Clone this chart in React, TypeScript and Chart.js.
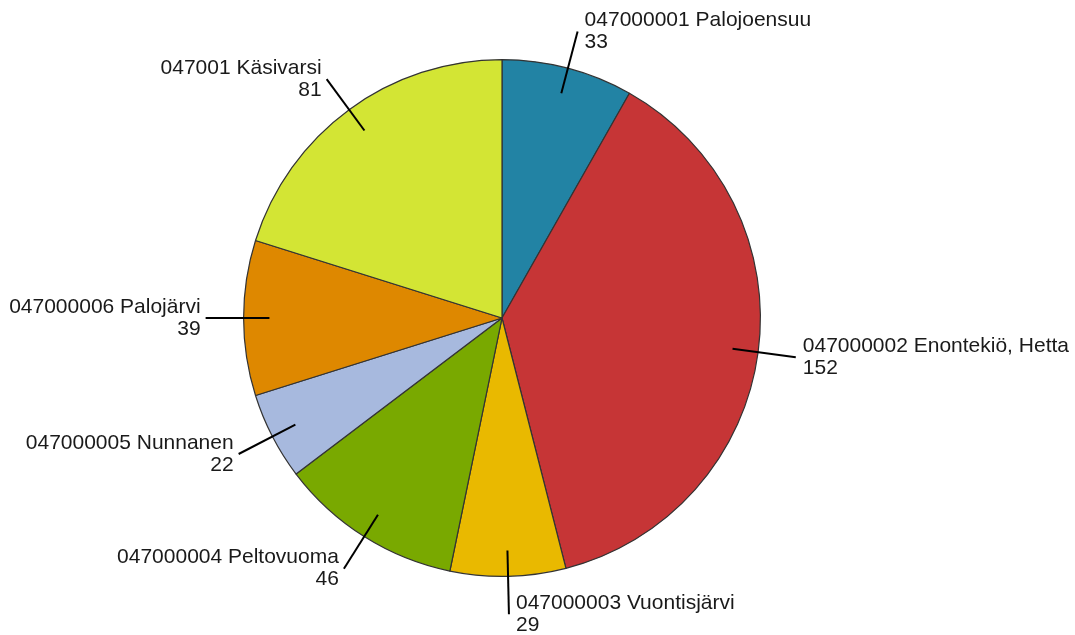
import React, { useEffect, useRef } from "react";
import { Chart, registerables } from "chart.js";

Chart.register(...registerables);

const categories = [
  "047000001 Palojoensuu",
  "047000002 Enontekiö, Hetta",
  "047000003 Vuontisjärvi",
  "047000004 Peltovuoma",
  "047000005 Nunnanen",
  "047000006 Palojärvi",
  "047001 Käsivarsi",
];
const values = [33, 152, 29, 46, 22, 39, 81];
const colors = ["#2283a4", "#c63536", "#e9b900", "#79a900", "#a7b9de", "#de8800", "#d3e534"];

const labelPlugin = {
  id: "leaderLabels",
  afterDatasetsDraw(chart: any) {
    const ctx = chart.ctx;
    const meta = chart.getDatasetMeta(0);
    ctx.save();
    meta.data.forEach((arc: any, i: number) => {
      const { x, y, startAngle, endAngle, outerRadius } = arc.getProps(
        ["x", "y", "startAngle", "endAngle", "outerRadius"],
        true
      );
      const mid = (startAngle + endAngle) / 2;
      const c = Math.cos(mid);
      const s = Math.sin(mid);
      const r1 = outerRadius * 0.9;
      const r2 = outerRadius * 1.147;
      const x1 = x + c * r1, y1 = y + s * r1;
      const x2 = x + c * r2, y2 = y + s * r2;
      ctx.beginPath();
      ctx.strokeStyle = "#000";
      ctx.lineWidth = 2;
      ctx.moveTo(x1, y1);
      ctx.lineTo(x2, y2);
      ctx.stroke();
      ctx.fillStyle = "#1a1a1a";
      ctx.font = "21px 'Liberation Sans', Arial, sans-serif";
      ctx.textBaseline = "middle";
      const right = c >= 0;
      ctx.textAlign = right ? "left" : "right";
      const tx = right ? x2 + 7 : x2 - 5;
      ctx.fillText(categories[i], tx, y2 - 11);
      ctx.fillText(String(values[i]), tx, y2 + 11);
    });
    ctx.restore();
  },
};

export default function App() {
  const ref = useRef<HTMLCanvasElement>(null);
  useEffect(() => {
    document.body.style.margin = "0";
    const chart = new Chart(ref.current!, {
      type: "pie",
      data: {
        labels: categories,
        datasets: [
          {
            data: values,
            backgroundColor: colors,
            borderColor: "#333",
            borderWidth: 1.2,
          },
        ],
      },
      options: {
        responsive: false,
        animation: false,
        layout: { padding: { top: 59, bottom: 58, left: 243, right: 314 } },
        plugins: {
          legend: { display: false },
          tooltip: { enabled: false },
        },
      },
      plugins: [labelPlugin],
    });
    return () => chart.destroy();
  }, []);
  return (
    <div style={{ width: 1075, height: 635, background: "#fff" }}>
      <canvas ref={ref} width={1075} height={635} />
    </div>
  );
}
